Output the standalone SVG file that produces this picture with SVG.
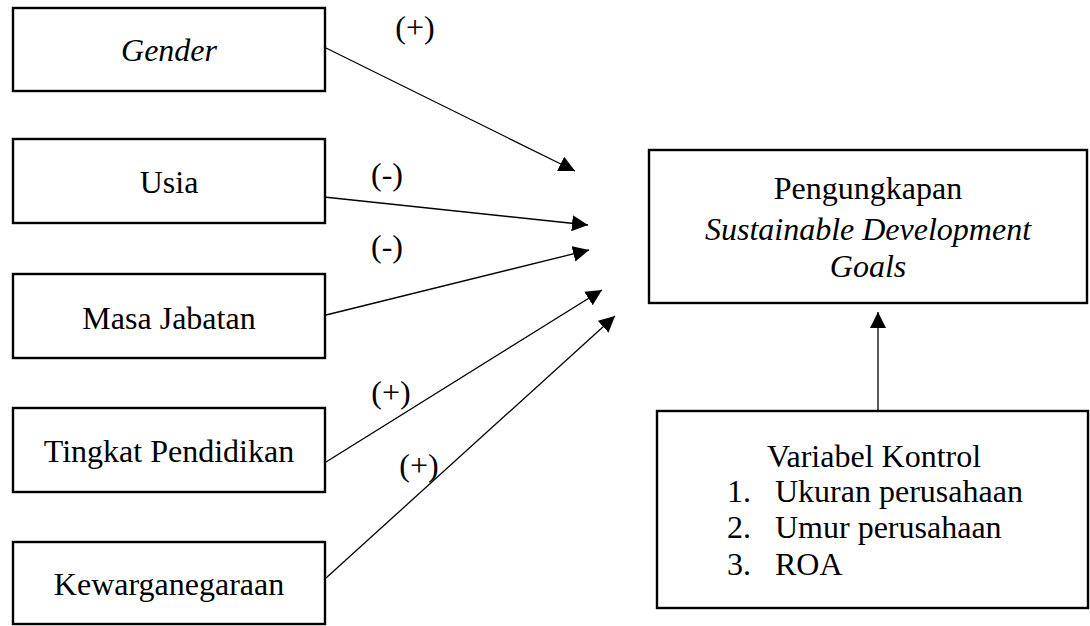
<svg xmlns="http://www.w3.org/2000/svg" width="1090" height="626" viewBox="0 0 1090 626">
<style>
.box{fill:#fff;stroke:#000;stroke-width:2.4}
.t{font-family:"Liberation Serif","Times New Roman",serif;font-size:32px;fill:#000}
.c{text-anchor:middle}
.i{font-style:italic}
.ln{stroke:#000;stroke-width:1.3;fill:none}
</style>
<defs>
<marker id="ah" markerUnits="userSpaceOnUse" markerWidth="16" markerHeight="16" refX="15" refY="7.5" orient="auto" viewBox="0 0 15 15">
<path d="M0,0 L15,7.5 L0,15 Z" fill="#000"/>
</marker>
</defs>
<rect width="1090" height="626" fill="#fff"/>
<g id="gender"><rect class="box" x="13" y="8" width="312" height="83"/><text class="t c i" x="169" y="61">Gender</text></g>
<g id="usia"><rect class="box" x="13" y="139" width="312" height="84"/><text class="t c" x="169" y="193">Usia</text></g>
<g id="masa-jabatan"><rect class="box" x="13" y="274" width="312" height="84"/><text class="t c" x="169" y="329">Masa Jabatan</text></g>
<g id="tingkat-pendidikan"><rect class="box" x="13" y="408" width="312" height="84"/><text class="t c" x="169" y="462">Tingkat Pendidikan</text></g>
<g id="kewarganegaraan"><rect class="box" x="13" y="542" width="312" height="82"/><text class="t c" x="169" y="595">Kewarganegaraan</text></g>
<g id="sdg"><rect class="box" x="649" y="150" width="438" height="153"/>
<text class="t c" x="868" y="199">Pengungkapan</text>
<text class="t c i" x="868" y="240">Sustainable Development</text>
<text class="t c i" x="868" y="277">Goals</text></g>
<g id="kontrol"><rect class="box" x="657" y="411" width="431" height="197"/>
<text class="t c" x="874" y="467">Variabel Kontrol</text>
<text class="t" x="727" y="502">1.</text><text class="t" x="775" y="502">Ukuran perusahaan</text>
<text class="t" x="727" y="538">2.</text><text class="t" x="775" y="538">Umur perusahaan</text>
<text class="t" x="727" y="575">3.</text><text class="t" x="775" y="575">ROA</text></g>
<g id="connectors">
<line class="ln" x1="326" y1="48" x2="575" y2="171" marker-end="url(#ah)"/>
<line class="ln" x1="324" y1="197" x2="588" y2="225" marker-end="url(#ah)"/>
<line class="ln" x1="326" y1="315" x2="589" y2="250" marker-end="url(#ah)"/>
<line class="ln" x1="326" y1="462" x2="602" y2="290" marker-end="url(#ah)"/>
<line class="ln" x1="326" y1="578" x2="615" y2="316" marker-end="url(#ah)"/>
<line class="ln" x1="878" y1="411" x2="878" y2="312" stroke="#333" marker-end="url(#ah)"/>
<text class="t c" x="415" y="38">(+)</text>
<text class="t c" x="387" y="185">(-)</text>
<text class="t c" x="387" y="257">(-)</text>
<text class="t c" x="391" y="403">(+)</text>
<text class="t c" x="419" y="476">(+)</text>
</g>
</svg>
